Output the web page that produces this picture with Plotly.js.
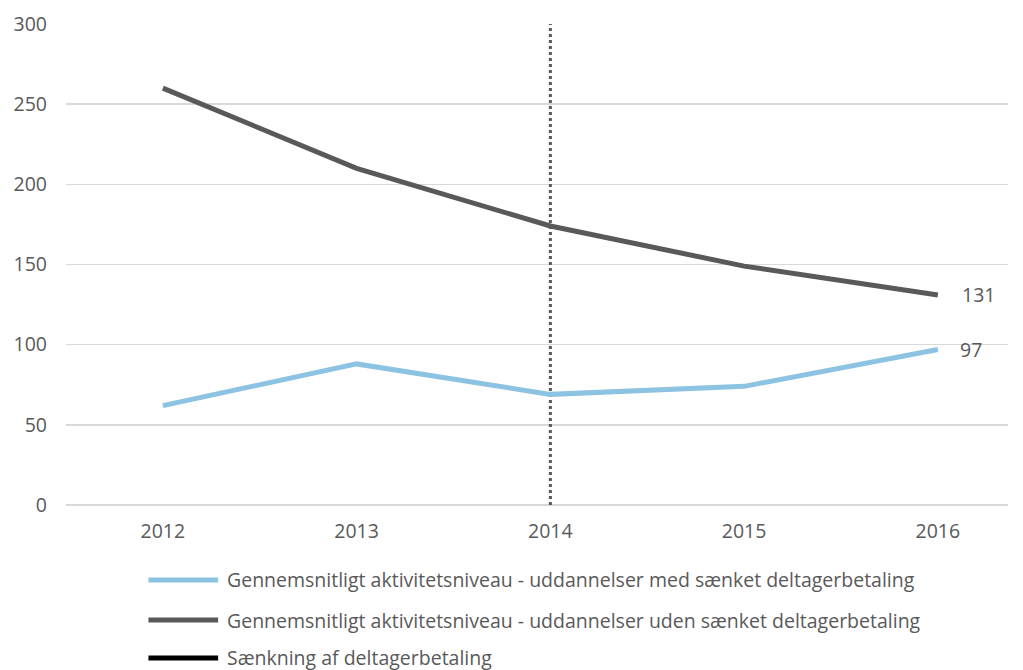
<!DOCTYPE html>
<html>
<head>
<meta charset="utf-8">
<script src="https://cdn.plot.ly/plotly-3.0.1.min.js"></script>
<style>html,body{margin:0;padding:0;background:#fff;}#chart{width:1023px;height:670px;}</style>
</head>
<body>
<div id="chart"></div>
<script>
const years = ['2012', '2013', '2014', '2015', '2016'];
const medSaenket = [62, 88, 69, 74, 97];
const udenSaenket = [260, 210, 174, 149, 131];
const reformYear = '2014';
const reformRange = [0, 300];
const nameMed = 'Gennemsnitligt aktivitetsniveau - uddannelser med sænket deltagerbetaling';
const nameUden = 'Gennemsnitligt aktivitetsniveau - uddannelser uden sænket deltagerbetaling';
const nameReform = 'Sænkning af deltagerbetaling';
const yTicks = [0, 50, 100, 150, 200, 250, 300];

const colMed = '#8DC3E2', colUden = '#595959', colReform = '#000000';
const txtFont = {family: 'Open Sans, sans-serif', size: 19.5, color: '#595959'};

const traces = [
  {x: [reformYear, reformYear], y: reformRange, mode: 'lines', showlegend: false, hoverinfo: 'skip',
   line: {color: '#595959', width: 3, dash: 'dot'}},
  {x: years, y: medSaenket, mode: 'lines', name: nameMed, showlegend: false,
   line: {color: colMed, width: 5}},
  {x: years, y: udenSaenket, mode: 'lines', name: nameUden, showlegend: false,
   line: {color: colUden, width: 5}}
];

const n = years.length - 1;
const annotations = [
  {x: n, y: udenSaenket[n], text: String(udenSaenket[n]), xref: 'x', yref: 'y',
   xanchor: 'left', yanchor: 'middle', xshift: 22, showarrow: false, font: txtFont},
  {x: n, y: medSaenket[n], text: String(medSaenket[n]), xref: 'x', yref: 'y',
   xanchor: 'left', yanchor: 'middle', xshift: 20, showarrow: false, font: txtFont}
];

// manual legend (below the plot)
const legendItems = [[nameMed, colMed, -0.1559], [nameUden, colUden, -0.2391], [nameReform, colReform, -0.318]];
const shapes = [];
legendItems.forEach(([name, col, yy]) => {
  shapes.push({type: 'line', xref: 'paper', yref: 'paper', x0: 0.0875, x1: 0.1615, y0: yy, y1: yy,
               line: {color: col, width: 5}});
  annotations.push({xref: 'paper', yref: 'paper', x: 0.1686, y: yy, xanchor: 'left', yanchor: 'middle',
                    text: name, showarrow: false, font: txtFont});
});

const layout = {
  width: 1023, height: 670,
  margin: {l: 66, r: 15, t: 24, b: 165},
  paper_bgcolor: '#ffffff', plot_bgcolor: '#ffffff',
  font: txtFont,
  showlegend: false,
  xaxis: {type: 'category', categoryorder: 'array', categoryarray: years, range: [-0.5, 4.362],
          showgrid: false, zeroline: false, showline: false, ticks: '', tickfont: txtFont,
          ticklabelstandoff: 12, fixedrange: true},
  yaxis: {range: [0, 300], tickvals: yTicks, showgrid: true, gridcolor: '#d9d9d9', gridwidth: 1.5,
          zeroline: true, zerolinecolor: '#d9d9d9', zerolinewidth: 1.5, showline: false, ticks: '',
          tickfont: txtFont, ticklabelstandoff: 18, fixedrange: true},
  shapes: shapes,
  annotations: annotations
};

Plotly.newPlot('chart', traces, layout, {displayModeBar: false, staticPlot: true});
</script>
</body>
</html>
